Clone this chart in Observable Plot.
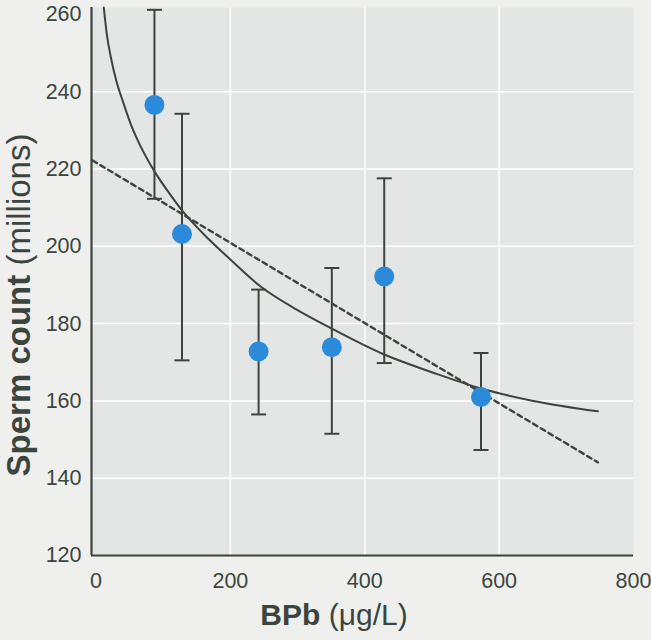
<!DOCTYPE html>
<html>
<head>
<meta charset="utf-8">
<script src="https://cdn.jsdelivr.net/npm/d3@7"></script>
<script src="https://cdn.jsdelivr.net/npm/@observablehq/plot@0.6"></script>
<style>
  html, body { margin: 0; padding: 0; background: #efefed; }
  #chart svg { display: block; }
</style>
</head>
<body>
<div id="chart"></div>
<script>
// ---- data ----
const bpb   = [87, 128, 242, 351, 429, 573];
const count = [236.6, 203.2, 172.8, 173.9, 192.2, 161.0];
const upper = [261.2, 234.3, 188.8, 194.4, 217.6, 172.4];
const lower = [212.3, 170.5, 156.5, 151.5, 169.8, 147.3];

// fitted curve (solid)
const curveX = [11.6, 16, 22, 30, 40, 52, 66, 87, 110, 128, 160, 200, 245, 300, 351, 429, 502, 573, 651, 747];
const curveY = [261.8, 255, 249, 243, 237.5, 231.5, 226, 219.4, 213.5, 209.3, 203.2, 196.6, 189.6, 183.5, 178.7, 172, 167.3, 163.2, 160, 157.3];

// linear fit (dashed) end points
const lineX = [-5, 747];
const lineY = [222.2, 144.1];

const xTicks = [0, 200, 400, 600, 800];
const yTicks = [120, 140, 160, 180, 200, 220, 240, 260];
const xGrid = [200, 400, 600];
const yGrid = [140, 160, 180, 200, 220, 240];
const xDomain = [-6.7, 800];
const yDomain = [120, 261.8];

const points = bpb.map((x, i) => ({x, y: count[i], hi: upper[i], lo: lower[i]}));
const curve = curveX.map((x, i) => ({x, y: curveY[i]}));
const line = lineX.map((x, i) => ({x, y: lineY[i]}));

const ink = "#3b453d";
const cap = {
  draw(context, size) {
    const w = Math.sqrt(size / Math.PI);
    context.moveTo(-w, 0);
    context.lineTo(w, 0);
  }
};

const svg = Plot.plot({
  width: 651,
  height: 640,
  marginLeft: 91,
  marginRight: 18,
  marginTop: 7,
  marginBottom: 85,
  style: {fontFamily: "'Liberation Sans', Arial, sans-serif", fontSize: "21.5px", color: ink, background: "#efefed"},
  x: {domain: xDomain, ticks: xTicks, tickSize: 0, tickPadding: 17, label: null},
  y: {domain: yDomain, ticks: yTicks, tickSize: 0, tickPadding: 10, label: null},
  marks: [
    Plot.frame({fill: "#e4e6e5", stroke: "none"}),
    Plot.ruleX(xGrid, {stroke: "white", strokeWidth: 1.5}),
    Plot.ruleY(yGrid, {stroke: "white", strokeWidth: 1.5}),
    Plot.ruleX([xDomain[0]], {stroke: ink, strokeWidth: 2.2}),
    Plot.ruleY([yDomain[0]], {stroke: ink, strokeWidth: 2.2}),
    Plot.line(line, {x: "x", y: "y", stroke: ink, strokeWidth: 2.4, strokeDasharray: "5,4"}),
    Plot.line(curve, {x: "x", y: "y", stroke: ink, strokeWidth: 2, curve: "monotone-x"}),
    Plot.ruleX(points, {x: "x", y1: "lo", y2: "hi", stroke: ink, strokeWidth: 2}),
    Plot.dot(points, {x: "x", y: "hi", r: 7.5, symbol: cap, stroke: ink, strokeWidth: 2, fill: "none"}),
    Plot.dot(points, {x: "x", y: "lo", r: 7.5, symbol: cap, stroke: ink, strokeWidth: 2, fill: "none"}),
    Plot.dot(points, {x: "x", y: "y", r: 10, fill: "#2b8ad9", stroke: "none"})
  ]
});

const s = d3.select(svg);
const yt = s.append("text")
  .attr("transform", "translate(30,305) rotate(-90)")
  .attr("text-anchor", "middle")
  .attr("fill", ink)
  .style("font-family", "'Liberation Sans', Arial, sans-serif")
  .style("font-size", "33px");
yt.append("tspan").attr("font-weight", "bold").text("Sperm count");
yt.append("tspan").text(" (millions)");

const xt = s.append("text")
  .attr("x", 334)
  .attr("y", 625)
  .attr("text-anchor", "middle")
  .attr("fill", ink)
  .style("font-family", "'Liberation Sans', Arial, sans-serif")
  .style("font-size", "30px");
xt.append("tspan").attr("font-weight", "bold").text("BPb");
xt.append("tspan").text(" (μg/L)");

document.getElementById("chart").appendChild(svg);
</script>
</body>
</html>
